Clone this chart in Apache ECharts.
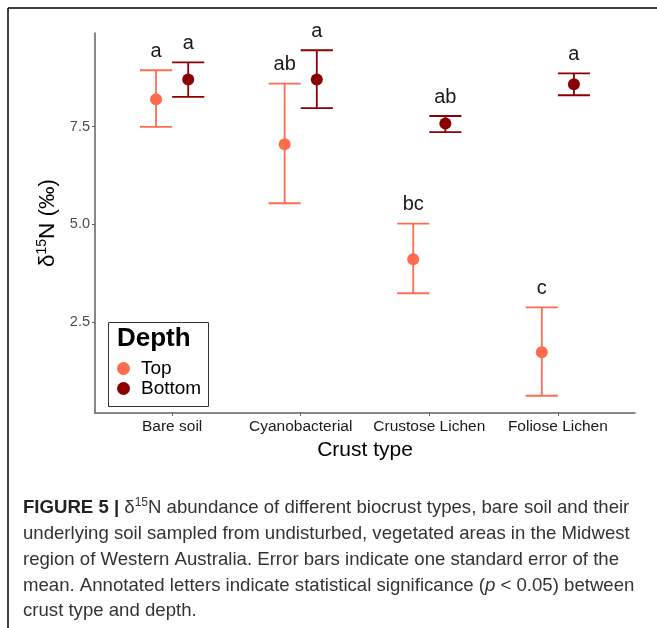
<!DOCTYPE html>
<html>
<head>
<meta charset="utf-8">
<script src="https://cdn.jsdelivr.net/npm/echarts@6/dist/echarts.min.js"></script>
<style>
html,body{margin:0;padding:0;background:#fff;}
#chart{width:657px;height:628px;}
</style>
</head>
<body>
<div id="chart"></div>
<script>
// ---- Data ----
const categories = ['Bare soil', 'Cyanobacterial', 'Crustose Lichen', 'Foliose Lichen'];
const depths = ['Top', 'Bottom'];
const topMean   = [8.20, 7.05, 4.11, 1.73];
const topUpper  = [8.94, 8.60, 5.02, 2.88];
const topLower  = [7.49, 5.54, 3.24, 0.62];
const topLetters = ['a', 'ab', 'bc', 'c'];
const bottomMean   = [8.70, 8.70, 7.58, 8.58];
const bottomUpper  = [9.14, 9.45, 7.77, 8.86];
const bottomLower  = [8.26, 7.97, 7.36, 8.30];
const bottomLetters = ['a', 'a', 'ab', 'a'];
const yTicks = [2.5, 5.0, 7.5];

// ---- Styling ----
const FONT = 'Liberation Sans, Arial, sans-serif';
const colTop = '#FF6B4D';
const colBottom = '#8B0000';
const dodge = 0.125;
const capHalf = 0.125;
const CAP = 18.6;

// y range like ggplot (5% expansion of data range)
const allVals = topUpper.concat(topLower, bottomUpper, bottomLower);
const dMin = Math.min.apply(null, allVals), dMax = Math.max.apply(null, allVals);
const pad = (dMax - dMin) * 0.05;
const yMin = dMin - pad, yMax = dMax + pad;

function makeData(mean, lower, upper, off) {
  return categories.map((c, i) => [i + 1 + off, lower[i], upper[i], mean[i]]);
}
function errSeries(name, color, data, letters) {
  return {
    type: 'custom',
    name: name + ' err',
    data: data,
    z: 2,
    renderItem: function (params, api) {
      const x = api.value(0), lo = api.value(1), hi = api.value(2);
      const pLo = api.coord([x, lo]);
      const pHi = api.coord([x, hi]);
      const half = api.size([capHalf, 0])[0];
      const st = { stroke: color, lineWidth: 1.8 };
      return {
        type: 'group',
        children: [
          { type: 'line', shape: { x1: pHi[0], y1: pHi[1], x2: pLo[0], y2: pLo[1] }, style: st },
          { type: 'line', shape: { x1: pHi[0] - half, y1: pHi[1], x2: pHi[0] + half, y2: pHi[1] }, style: st },
          { type: 'line', shape: { x1: pLo[0] - half, y1: pLo[1], x2: pLo[0] + half, y2: pLo[1] }, style: st },
          { type: 'text', x: pHi[0], y: pHi[1] - 9,
            style: { text: letters[params.dataIndex], align: 'center', verticalAlign: 'bottom',
                     fontSize: 20, fontFamily: FONT, fill: '#1a1a1a' } }
        ]
      };
    }
  };
}
const topData = makeData(topMean, topLower, topUpper, -dodge);
const bottomData = makeData(bottomMean, bottomLower, bottomUpper, dodge);

const chart = echarts.init(document.getElementById('chart'), null, { renderer: 'canvas' });
chart.setOption({
  backgroundColor: '#ffffff',
  animation: false,
  grid: { left: 95, right: 22, top: 33, bottom: 215, containLabel: false },
  xAxis: {
    type: 'value', min: 0.4, max: 4.6,
    name: 'Crust type', nameLocation: 'middle', nameGap: 27,
    nameTextStyle: { fontSize: 21, fontFamily: FONT, color: '#000' },
    axisLine: { show: true, lineStyle: { color: '#606060', width: 1.5 } },
    axisTick: { show: true, customValues: [1, 2, 3, 4], length: 3, lineStyle: { color: '#606060' } },
    axisLabel: { customValues: [1, 2, 3, 4], formatter: v => categories[Math.round(v) - 1],
                 fontSize: 15.5, fontFamily: FONT, color: '#1a1a1a', margin: 6 },
    splitLine: { show: false }
  },
  yAxis: {
    type: 'value', min: yMin, max: yMax,
    name: 'δ{sup|15}N (‰)', nameLocation: 'middle', nameGap: 33, nameRotate: 90,
    nameTextStyle: { fontSize: 22.5, fontFamily: FONT, color: '#000',
                     rich: { sup: { fontSize: 14, fontFamily: FONT, color: '#000', padding: [0, 0, 10, 0] } } },
    axisLine: { show: true, lineStyle: { color: '#606060', width: 1.5 } },
    axisTick: { show: true, customValues: yTicks, length: 3, lineStyle: { color: '#606060' } },
    axisLabel: { customValues: yTicks, formatter: v => v.toFixed(1),
                 fontSize: 14.5, fontFamily: FONT, color: '#4d4d4d', margin: 5 },
    splitLine: { show: false }
  },
  legend: {
    data: depths, orient: 'vertical', left: 112, top: 354,
    icon: 'circle', itemWidth: 13, itemHeight: 13, itemGap: 1,
    textStyle: { fontSize: 19, fontFamily: FONT, color: '#000', padding: [0, 0, 0, 6] }
  },
  series: [
    errSeries('Top', colTop, topData, topLetters),
    errSeries('Bottom', colBottom, bottomData, bottomLetters),
    { type: 'scatter', name: 'Top', data: topData.map(d => [d[0], d[3]]),
      symbol: 'circle', symbolSize: 12, itemStyle: { color: colTop, opacity: 1 }, z: 3 },
    { type: 'scatter', name: 'Bottom', data: bottomData.map(d => [d[0], d[3]]),
      symbol: 'circle', symbolSize: 12, itemStyle: { color: colBottom, opacity: 1 }, z: 3 }
  ],
  graphic: [
    // figure frame
    { type: 'line', shape: { x1: 8, y1: 8, x2: 657, y2: 8 }, style: { stroke: '#000', lineWidth: 1.5 } },
    { type: 'line', shape: { x1: 8, y1: 8, x2: 8, y2: 628 }, style: { stroke: '#000', lineWidth: 1.5 } },
    // legend box
    { type: 'rect', shape: { x: 108.5, y: 322.5, width: 100, height: 84 },
      style: { fill: '#fff', stroke: '#333', lineWidth: 1 }, z: 0 },
    { type: 'text', x: 117, y: 326, z: 10,
      style: { text: 'Depth', fontSize: 26, fontWeight: 'bold', fontFamily: FONT, fill: '#000' } },
    // caption
    { type: 'text', x: 23, y: 497,
      style: { text: '{b|FIGURE 5 |} δ{sup|15}N abundance of different biocrust types, bare soil and their',
               fontSize: CAP, fontFamily: FONT, fill: '#333',
               rich: { b: { fontSize: CAP, fontWeight: 'bold', fontFamily: FONT, fill: '#222' },
                       sup: { fontSize: 12, fontFamily: FONT, fill: '#333', padding: [0, 0, 9, 0] } } } },
    { type: 'text', x: 23, y: 524,
      style: { text: 'underlying soil sampled from undisturbed, vegetated areas in the Midwest',
               fontSize: CAP, fontFamily: FONT, fill: '#333' } },
    { type: 'text', x: 23, y: 550,
      style: { text: 'region of Western Australia. Error bars indicate one standard error of the',
               fontSize: CAP, fontFamily: FONT, fill: '#333' } },
    { type: 'text', x: 23, y: 576,
      style: { text: 'mean. Annotated letters indicate statistical significance ({i|p} < 0.05) between',
               fontSize: CAP, fontFamily: FONT, fill: '#333',
               rich: { i: { fontSize: CAP, fontStyle: 'italic', fontFamily: FONT, fill: '#333' } } } },
    { type: 'text', x: 23, y: 601,
      style: { text: 'crust type and depth.', fontSize: CAP, fontFamily: FONT, fill: '#333' } }
  ]
});
</script>
</body>
</html>
